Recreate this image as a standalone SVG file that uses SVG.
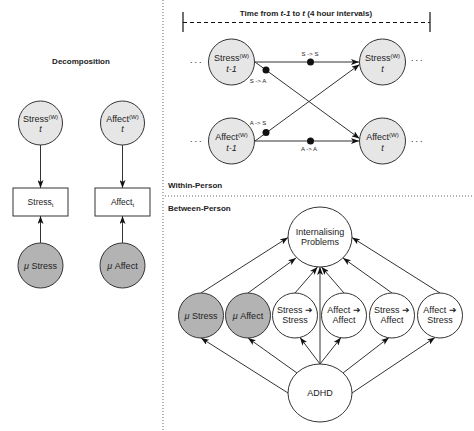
<svg xmlns="http://www.w3.org/2000/svg" width="474" height="431" viewBox="0 0 474 431">
<style>
text{font-family:"Liberation Sans",Arial,sans-serif;fill:#222;}
.t{font-size:9px;text-anchor:middle;}
.tb{font-size:8.5px;text-anchor:middle;}
.h{font-size:8px;font-weight:bold;}
.s{font-size:6px;text-anchor:middle;}
.sup{font-size:6px;}
.it{font-style:italic;}
.w{fill:#e6e6e6;stroke:#333;stroke-width:1;}
.d{fill:#b3b3b3;stroke:#333;stroke-width:1;}
.o{fill:#fff;stroke:#333;stroke-width:1;}
.box{fill:#fff;stroke:#333;stroke-width:1;}
.ln{stroke:#333;stroke-width:1;fill:none;marker-end:url(#ah);}
.div{stroke:#666;stroke-width:1;stroke-dasharray:1,2;fill:none;}
</style>
<defs>
<marker id="ah" markerWidth="8" markerHeight="6" refX="8" refY="3" orient="auto" markerUnits="userSpaceOnUse">
<path d="M0,0 L8,3 L0,6 L2,3 z" fill="#111"/>
</marker>
</defs>
<rect width="474" height="431" fill="#fff"/>
<g id="dividers">
<line class="div" x1="163" y1="0" x2="163" y2="431"/>
<line class="div" x1="165" y1="196" x2="474" y2="196"/>
</g>
<g id="labels">
<text class="h" x="81" y="63.5" text-anchor="middle">Decomposition</text>
<text class="h" x="306" y="16" text-anchor="middle">Time from <tspan class="it">t-1</tspan> to <tspan class="it">t</tspan> (4 hour intervals)</text>
<text class="h" x="168" y="188">Within-Person</text>
<text class="h" x="168" y="211">Between-Person</text>
</g>
<g id="timeline">
<line x1="183" y1="22.5" x2="430" y2="22.5" stroke="#111" stroke-width="1.2" stroke-dasharray="4,3"/>
<line x1="183" y1="12" x2="183" y2="32" stroke="#111" stroke-width="1.2"/>
<line x1="430" y1="12" x2="430" y2="32" stroke="#111" stroke-width="1.2"/>
</g>
<g id="connectors">
<line class="ln" x1="40.5" y1="145" x2="40.5" y2="188"/>
<line class="ln" x1="40.5" y1="243" x2="40.5" y2="216"/>
<line class="ln" x1="122.5" y1="145" x2="122.5" y2="188"/>
<line class="ln" x1="122.5" y1="243" x2="122.5" y2="216"/>
<line class="ln" x1="255" y1="62" x2="359" y2="62"/>
<line class="ln" x1="255" y1="141" x2="359" y2="141"/>
<line class="ln" x1="255" y1="62" x2="359.5" y2="138.5"/>
<line class="ln" x1="255" y1="141" x2="359.5" y2="64.5"/>
<line class="ln" x1="201" y1="293" x2="288" y2="237.5"/>
<line class="ln" x1="248" y1="293" x2="296" y2="258"/>
<line class="ln" x1="295" y1="293" x2="317.5" y2="267"/>
<line class="ln" x1="344" y1="293" x2="321.5" y2="267"/>
<line class="ln" x1="320" y1="364" x2="320" y2="267"/>
<line class="ln" x1="392" y1="293" x2="343" y2="258"/>
<line class="ln" x1="440" y1="293" x2="352" y2="237.5"/>
<line class="ln" x1="288" y1="393" x2="201" y2="338"/>
<line class="ln" x1="297" y1="373" x2="248" y2="338"/>
<line class="ln" x1="320" y1="364" x2="300" y2="337.5"/>
<line class="ln" x1="320" y1="364" x2="341" y2="337.5"/>
<line class="ln" x1="343" y1="373" x2="389" y2="337.5"/>
<line class="ln" x1="352" y1="393" x2="435" y2="337.5"/>
</g>
<g id="path-labels">
<circle cx="310.5" cy="62" r="3.5" fill="#111"/>
<circle cx="310.5" cy="141" r="3.5" fill="#111"/>
<circle cx="266" cy="70" r="3.5" fill="#111"/>
<circle cx="266" cy="132.5" r="3.5" fill="#111"/>
<text class="s" x="310" y="55.5">S -&gt; S</text>
<text class="s" x="309" y="151">A -&gt; A</text>
<text class="s" x="258" y="83">S -&gt; A</text>
<text class="s" x="258" y="125">A -&gt; S</text>
</g>
<g id="ellipses">
<text x="190" y="63" font-size="9" letter-spacing="2">...</text>
<text x="190" y="142" font-size="9" letter-spacing="2">...</text>
<text x="411" y="61" font-size="9" letter-spacing="2">...</text>
<text x="411" y="142" font-size="9" letter-spacing="2">...</text>
</g>
<g id="n-stressw-d">
<circle class="w" cx="40.5" cy="123" r="22"/>
<text class="t" x="40.5" y="122">Stress<tspan class="sup" dy="-3">(W)</tspan></text>
<text class="t it" x="40.5" y="132">t</text>
</g>
<g id="n-affectw-d">
<circle class="w" cx="122.5" cy="123" r="22"/>
<text class="t" x="122.5" y="122">Affect<tspan class="sup" dy="-3">(W)</tspan></text>
<text class="t it" x="122.5" y="132">t</text>
</g>
<g id="n-stress-box">
<rect class="box" x="13" y="188" width="55" height="28"/>
<text class="tb" x="40.5" y="205">Stress<tspan font-size="6" dy="1.5">t</tspan></text>
</g>
<g id="n-affect-box">
<rect class="box" x="95" y="188" width="55" height="28"/>
<text class="tb" x="122.5" y="205">Affect<tspan font-size="6" dy="1.5">t</tspan></text>
</g>
<g id="n-mustress-d">
<circle class="d" cx="40.5" cy="265.5" r="22.5"/>
<text class="t" x="40.5" y="268.5"><tspan class="it">μ</tspan> Stress</text>
</g>
<g id="n-muaffect-d">
<circle class="d" cx="122.5" cy="265.5" r="22.5"/>
<text class="t" x="122.5" y="268.5"><tspan class="it">μ</tspan> Affect</text>
</g>
<g id="n-stress-t1">
<circle class="w" cx="231.5" cy="62" r="23"/>
<text class="t" x="231.5" y="61">Stress<tspan class="sup" dy="-3">(W)</tspan></text>
<text class="t it" x="231.5" y="71.5">t-1</text>
</g>
<g id="n-stress-t">
<circle class="w" cx="382.5" cy="62" r="23"/>
<text class="t" x="382.5" y="61">Stress<tspan class="sup" dy="-3">(W)</tspan></text>
<text class="t it" x="382.5" y="71.5">t</text>
</g>
<g id="n-affect-t1">
<circle class="w" cx="231.5" cy="141" r="23"/>
<text class="t" x="231.5" y="140">Affect<tspan class="sup" dy="-3">(W)</tspan></text>
<text class="t it" x="231.5" y="150.5">t-1</text>
</g>
<g id="n-affect-t">
<circle class="w" cx="382.5" cy="141" r="23"/>
<text class="t" x="382.5" y="140">Affect<tspan class="sup" dy="-3">(W)</tspan></text>
<text class="t it" x="382.5" y="150.5">t</text>
</g>
<g id="n-ip">
<ellipse class="o" cx="320" cy="237" rx="32" ry="30"/>
<text class="t" x="320" y="235" font-size="8.5">Internalising</text>
<text class="t" x="320" y="245" font-size="8.5">Problems</text>
</g>
<g id="n-mustress">
<circle class="d" cx="201" cy="315.5" r="22.5"/>
<text class="t" x="201" y="318.5" font-size="8.5"><tspan class="it">μ</tspan> Stress</text>
</g>
<g id="n-muaffect">
<circle class="d" cx="248" cy="315.5" r="22.5"/>
<text class="t" x="248" y="318.5" font-size="8.5"><tspan class="it">μ</tspan> Affect</text>
</g>
<g id="n-ss">
<circle class="o" cx="295" cy="315.5" r="22.5"/>
<text class="t" x="295" y="313" font-size="8.5">Stress ➔</text>
<text class="t" x="295" y="323" font-size="8.5">Stress</text>
</g>
<g id="n-aa">
<circle class="o" cx="344" cy="315.5" r="22.5"/>
<text class="t" x="344" y="313" font-size="8.5">Affect ➔</text>
<text class="t" x="344" y="323" font-size="8.5">Affect</text>
</g>
<g id="n-sa">
<circle class="o" cx="392" cy="315.5" r="22.5"/>
<text class="t" x="392" y="313" font-size="8.5">Stress ➔</text>
<text class="t" x="392" y="323" font-size="8.5">Affect</text>
</g>
<g id="n-as">
<circle class="o" cx="440" cy="315.5" r="22.5"/>
<text class="t" x="440" y="313" font-size="8.5">Affect ➔</text>
<text class="t" x="440" y="323" font-size="8.5">Stress</text>
</g>
<g id="n-adhd">
<ellipse class="o" cx="320" cy="393" rx="32" ry="29"/>
<text class="t" x="320" y="396" font-size="8.5">ADHD</text>
</g>
</svg>
